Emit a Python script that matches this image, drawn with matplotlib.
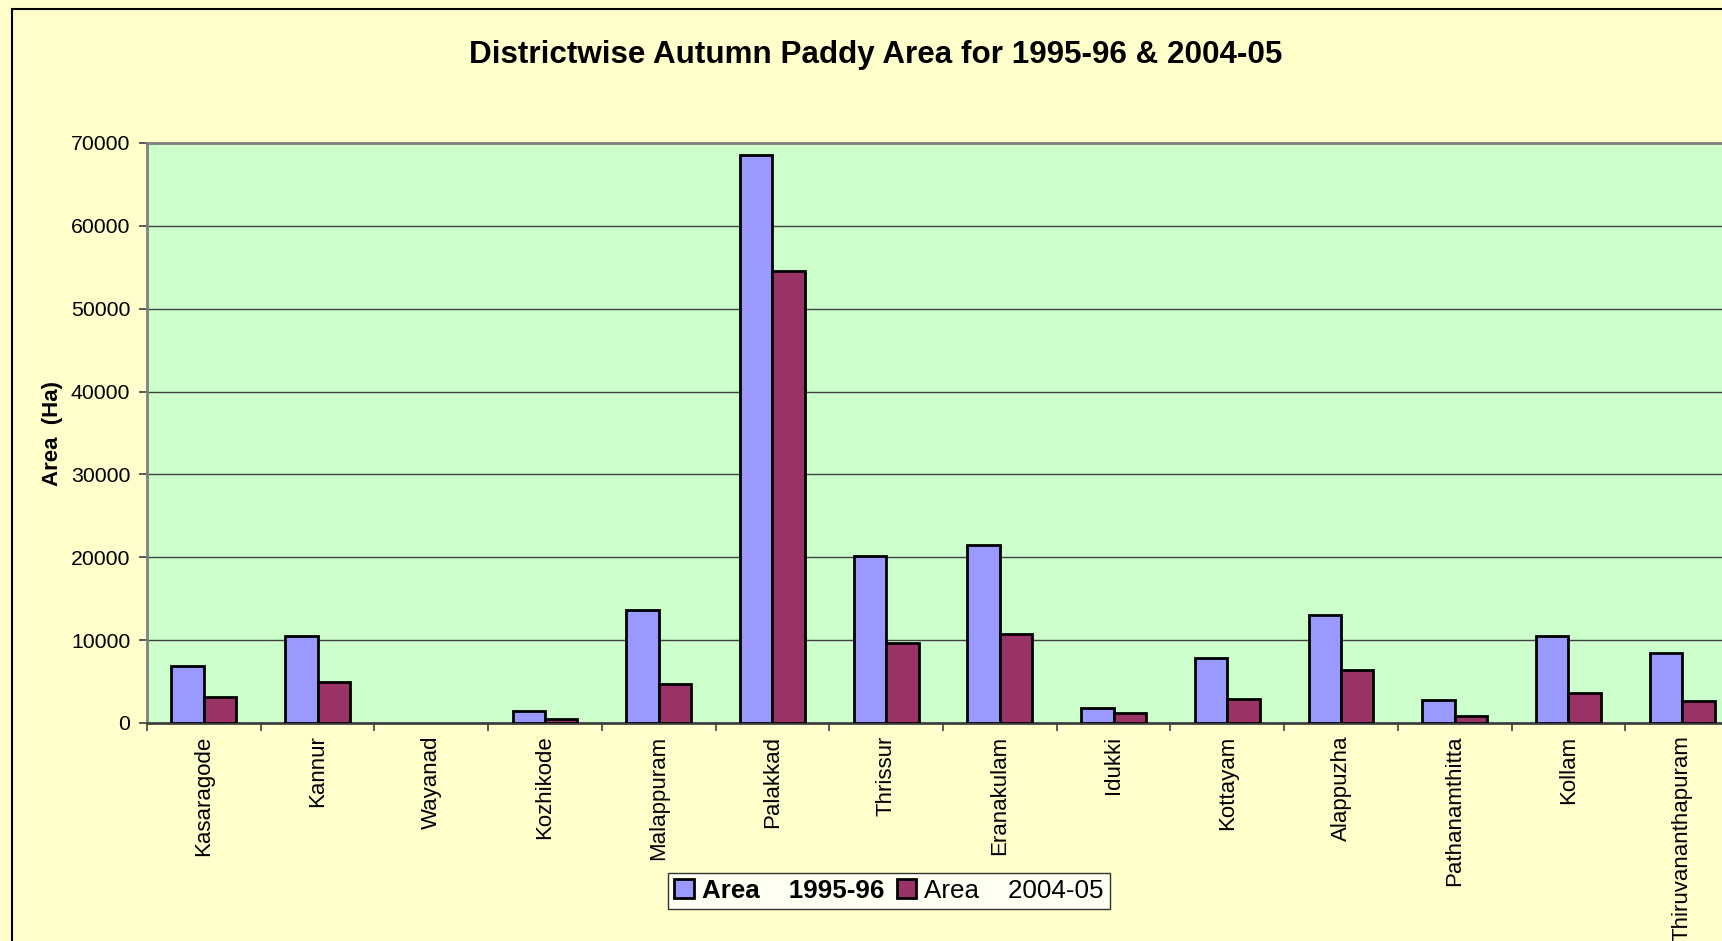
import numpy as np
import matplotlib
matplotlib.use('Agg')
import matplotlib.pyplot as plt
from matplotlib.patches import Rectangle

plt.rcParams['font.family'] = ['Liberation Sans', 'DejaVu Sans']

# Data
districts = ['Kasaragode', 'Kannur', 'Wayanad', 'Kozhikode', 'Malappuram', 'Palakkad',
             'Thrissur', 'Eranakulam', 'Idukki', 'Kottayam', 'Alappuzha', 'Pathanamthitta',
             'Kollam', 'Thiruvananthapuram']
area_1995 = [6900, 10500, 0, 1400, 13600, 68500, 20100, 21500, 1800, 7800, 13000, 2800, 10500, 8500]
area_2004 = [3100, 4900, 0, 500, 4700, 54500, 9600, 10800, 1200, 2900, 6400, 900, 3600, 2600]
yticks = [0, 10000, 20000, 30000, 40000, 50000, 60000, 70000]

fig = plt.figure(figsize=(17.22, 9.41), dpi=100, facecolor='#FFFFCC')

# outer chart frame (cut off at the right and bottom)
fig.patches.append(Rectangle((12 / 1722, -0.1), 1.2, (932 / 941) + 0.1, transform=fig.transFigure,
                             fill=False, edgecolor='black', linewidth=1.5))

ax = fig.add_axes([147 / 1722, 218 / 941, 1592 / 1722, 580 / 941])
ax.set_facecolor('#CCFFCC')

x = np.arange(len(districts))
w = 1 / 3.5
b1 = ax.bar(x - w / 2, area_1995, w, color='#9999FF', edgecolor='black', linewidth=2,
            label='Area    1995-96', zorder=3)
b2 = ax.bar(x + w / 2, area_2004, w, color='#993366', edgecolor='black', linewidth=2,
            label='Area    2004-05', zorder=3)
# empty categories show no outline
for bars, vals in ((b1, area_1995), (b2, area_2004)):
    for r, v in zip(bars, vals):
        if v == 0:
            r.set_linewidth(0)

ax.set_xlim(-0.5, len(districts) - 0.5)
ax.set_ylim(0, 70000)
ax.set_yticks(yticks)
ax.set_yticklabels([str(v) for v in yticks], fontsize=15.3)
ax.yaxis.grid(True, color='#404040', linewidth=1, zorder=0)

ax.set_xticks(np.arange(len(districts) + 1) - 0.5)
ax.set_xticklabels([])
ax.set_xticks(x, minor=True)
ax.set_xticklabels(districts, minor=True, rotation=90, fontsize=16, va='top')
ax.tick_params(axis='x', which='minor', length=0, pad=9)
ax.tick_params(axis='x', which='major', length=6, width=1.2, color='#404040')
ax.tick_params(axis='y', length=6, width=1.2, color='#404040', pad=6)

for s in ['top', 'left', 'bottom']:
    ax.spines[s].set_color('#808080')
    ax.spines[s].set_linewidth(2)
ax.spines['bottom'].set_color('#404040')
ax.spines['right'].set_visible(False)

ax.set_ylabel('Area  (Ha)', fontsize=16, fontweight='bold', labelpad=6)

fig.text(876 / 1722, 1 - 55 / 941, 'Districtwise Autumn Paddy Area for 1995-96 & 2004-05',
         ha='center', va='center', fontsize=22.6, fontweight='bold')

leg = fig.legend(loc='center', bbox_to_anchor=(889 / 1722, 1 - 891 / 941), ncol=2,
                 fontsize=18.7, frameon=True, fancybox=False, edgecolor='black',
                 handlelength=0.75, handleheight=0.75, handletextpad=0.3, columnspacing=0.5,
                 borderpad=0.25, borderaxespad=0)
leg.get_frame().set_linewidth(1)
leg.get_texts()[0].set_fontweight('bold')

fig.savefig('out.png', dpi=100, facecolor=fig.get_facecolor())
